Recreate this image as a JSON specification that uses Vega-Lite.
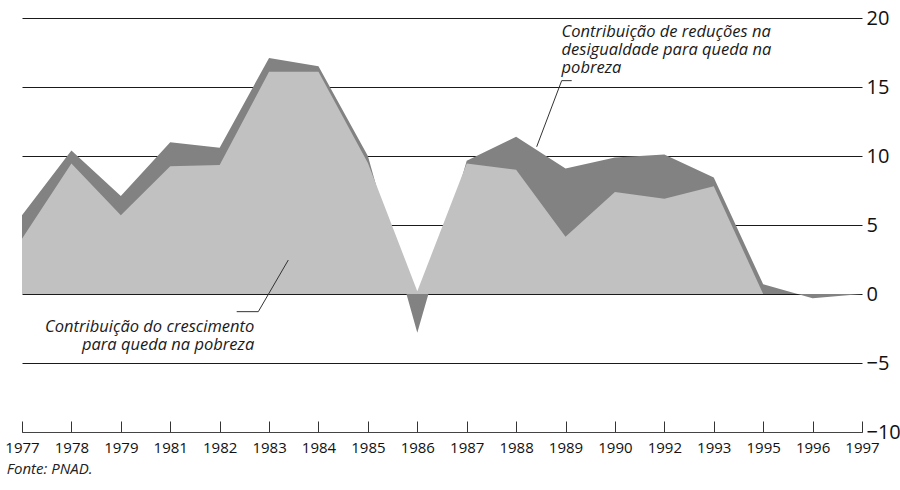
{
  "$schema": "https://vega.github.io/schema/vega-lite/v6.json",
  "width": 840,
  "height": 414,
  "autosize": {"type": "none"},
  "padding": {"left": 22, "top": 18, "right": 38, "bottom": 58},
  "background": "white",
  "config": {"view": {"stroke": null}, "font": "Open Sans"},
  "title": {
    "text": "Fonte: PNAD.",
    "orient": "bottom",
    "anchor": "start",
    "dx": 2,
    "offset": 7,
    "font": "Open Sans",
    "fontStyle": "italic",
    "fontWeight": "normal",
    "fontSize": 15,
    "color": "#222"
  },
  "datasets": {
    "series": [
      {"i": 0, "year": "1977", "total": 5.7, "growth": 4.0},
      {"i": 1, "year": "1978", "total": 10.4, "growth": 9.45},
      {"i": 2, "year": "1979", "total": 7.1, "growth": 5.7},
      {"i": 3, "year": "1981", "total": 11.0, "growth": 9.25},
      {"i": 4, "year": "1982", "total": 10.6, "growth": 9.35},
      {"i": 5, "year": "1983", "total": 17.1, "growth": 16.1},
      {"i": 6, "year": "1984", "total": 16.5, "growth": 16.1},
      {"i": 7, "year": "1985", "total": 10.0, "growth": 9.5},
      {"i": 8, "year": "1986", "total": -2.8, "growth": 0.2},
      {"i": 9, "year": "1987", "total": 9.65, "growth": 9.45},
      {"i": 10, "year": "1988", "total": 11.4, "growth": 9.0},
      {"i": 11, "year": "1989", "total": 9.1, "growth": 4.15},
      {"i": 12, "year": "1990", "total": 9.9, "growth": 7.4},
      {"i": 13, "year": "1992", "total": 10.1, "growth": 6.9},
      {"i": 14, "year": "1993", "total": 8.45, "growth": 7.8},
      {"i": 15, "year": "1995", "total": 0.7, "growth": 0.0},
      {"i": 16, "year": "1996", "total": -0.3, "growth": 0.0},
      {"i": 17, "year": "1997", "total": 0.0, "growth": 0.0}
    ],
    "notes": [
      {"i": 10.92, "v": 18.64, "label": "Contribuição de reduções na\ndesigualdade para queda na\npobreza", "side": "left"},
      {"i": 4.70, "v": -2.75, "label": "Contribuição do crescimento\npara queda na pobreza", "side": "right"}
    ],
    "leaders": [
      {"i": 10.922, "i2": 10.416, "v": 15.46, "v2": 10.67},
      {"i": 10.922, "i2": 11.125, "v": 15.46, "v2": 15.46},
      {"i": 5.389, "i2": 4.782, "v": 2.46, "v2": -1.28},
      {"i": 4.345, "i2": 4.782, "v": -1.28, "v2": -1.28}
    ]
  },
  "encoding": {
    "x": {
      "field": "i",
      "type": "quantitative",
      "scale": {"domain": [0, 17], "nice": false, "zero": false},
      "axis": {
        "orient": "bottom",
        "title": null,
        "values": [0,1,2,3,4,5,6,7,8,9,10,11,12,13,14,15,16,17],
        "labelExpr": "['1977','1978','1979','1981','1982','1983','1984','1985','1986','1987','1988','1989','1990','1992','1993','1995','1996','1997'][datum.value]",
        "grid": false,
        "tickSize": -11,
        "tickColor": "#333",
        "tickWidth": 1,
        "domainColor": "#444",
        "domainWidth": 1.2,
        "labelPadding": 19,
        "labelFont": "Open Sans",
        "labelFontSize": 15,
        "labelColor": "#111",
        "labelFlush": false,
        "labelOverlap": false
      }
    },
    "y": {
      "type": "quantitative",
      "scale": {"domain": [-10, 20], "nice": false},
      "axis": {
        "orient": "right",
        "title": null,
        "values": [-10, -5, 0, 5, 10, 15, 20],
        "grid": true,
        "gridColor": "#1a1a1a",
        "gridWidth": 1,
        "ticks": false,
        "domain": false,
        "labelPadding": 4,
        "labelFont": "Open Sans",
        "labelFontSize": 20,
        "labelColor": "#111",
        "labelFlush": false
      }
    }
  },
  "layer": [
    {
      "data": {"name": "series"},
      "mark": {"type": "area", "color": "#828282", "interpolate": "linear"},
      "encoding": {"y": {"field": "total", "type": "quantitative"}}
    },
    {
      "data": {"name": "series"},
      "mark": {"type": "area", "color": "#c1c1c1", "interpolate": "linear"},
      "encoding": {"y": {"field": "growth", "type": "quantitative"}}
    },
    {
      "mark": {"type": "rule", "color": "#111", "strokeWidth": 2.6},
      "encoding": {"y": {"datum": 0}, "x": null}
    },
    {
      "data": {"name": "leaders"},
      "mark": {"type": "rule", "color": "#333", "strokeWidth": 1},
      "encoding": {
        "x2": {"field": "i2"},
        "y": {"field": "v", "type": "quantitative"},
        "y2": {"field": "v2"}
      }
    },
    {
      "data": {"name": "notes"},
      "transform": [{"filter": "datum.side === 'left'"}],
      "mark": {
        "type": "text",
        "align": "left",
        "font": "Open Sans",
        "fontStyle": "italic",
        "fontSize": 16.5,
        "lineBreak": "\n",
        "lineHeight": 18.3,
        "baseline": "alphabetic",
        "color": "#1a1a1a"
      },
      "encoding": {
        "y": {"field": "v", "type": "quantitative"},
        "text": {"field": "label"}
      }
    },
    {
      "data": {"name": "notes"},
      "transform": [{"filter": "datum.side === 'right'"}],
      "mark": {
        "type": "text",
        "align": "right",
        "font": "Open Sans",
        "fontStyle": "italic",
        "fontSize": 16.5,
        "lineBreak": "\n",
        "lineHeight": 18,
        "baseline": "alphabetic",
        "color": "#1a1a1a"
      },
      "encoding": {
        "y": {"field": "v", "type": "quantitative"},
        "text": {"field": "label"}
      }
    }
  ]
}
